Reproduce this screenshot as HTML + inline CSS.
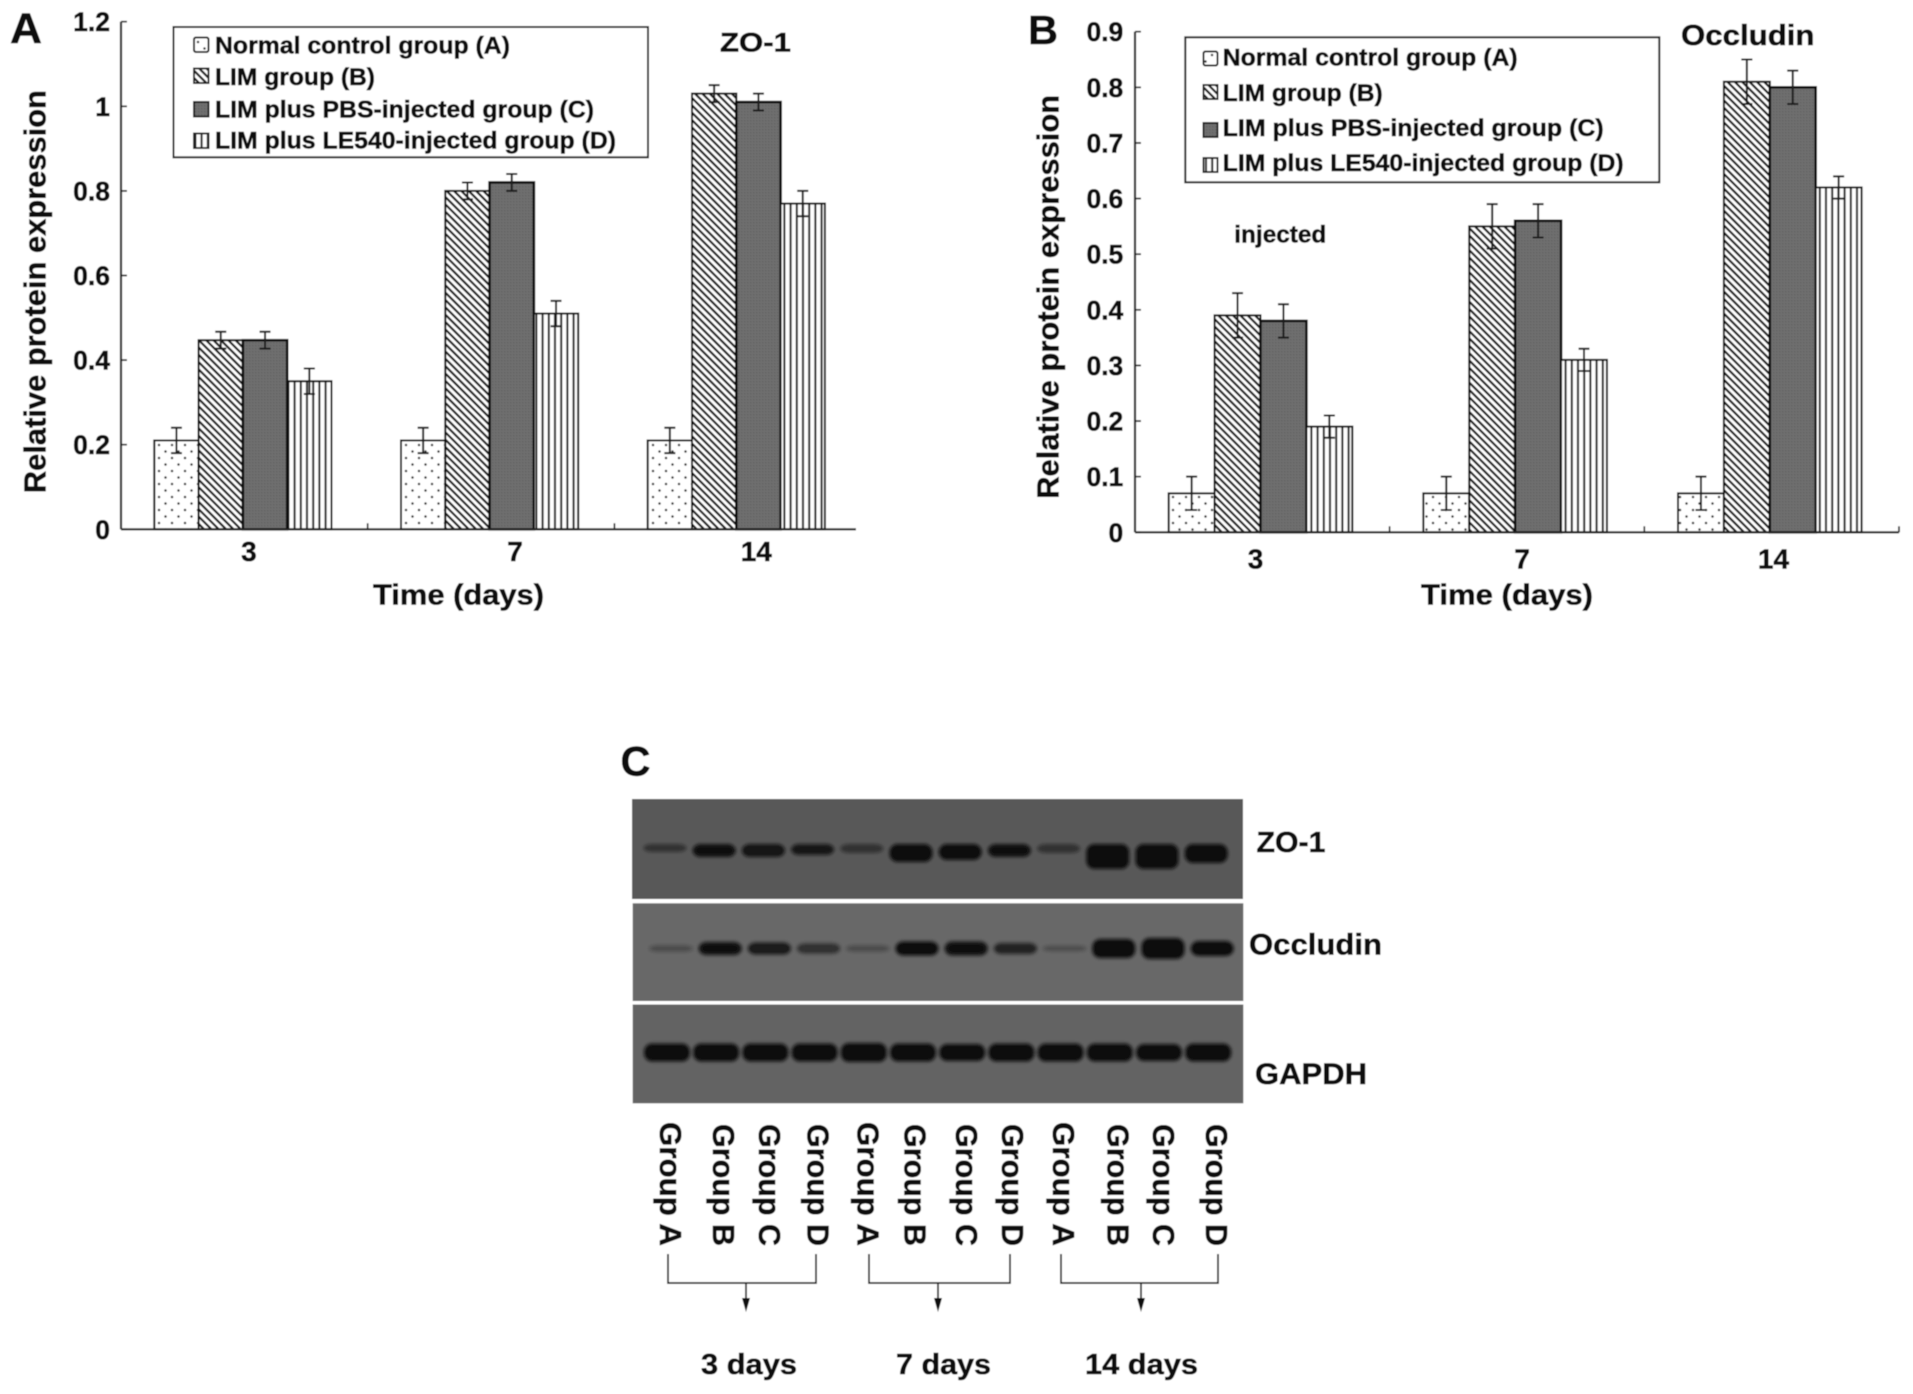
<!DOCTYPE html>
<html>
<head>
<meta charset="utf-8">
<title>ZO-1 and Occludin expression</title>
<style>
html,body{margin:0;padding:0;background:#fff;width:1913px;height:1394px;overflow:hidden}
svg{display:block}
text{font-family:"Liberation Sans",sans-serif;font-weight:bold;fill:#0d0d0d;stroke:#0d0d0d;stroke-width:.55px}
</style>
</head>
<body>
<svg id="fig" xmlns="http://www.w3.org/2000/svg" width="1913" height="1394" viewBox="0 0 1913 1394">
<defs>
<pattern id="p-dots" width="13" height="13" patternUnits="userSpaceOnUse">
<rect width="13" height="13" fill="#fff"/>
<circle cx="3" cy="3" r="1.25" fill="#333"/>
<circle cx="9.5" cy="9.5" r="1.25" fill="#333"/>
</pattern>
<pattern id="p-diag" width="5.2" height="5.2" patternUnits="userSpaceOnUse" patternTransform="rotate(45)">
<rect width="5.2" height="5.2" fill="#fff"/>
<rect width="5.2" height="2.3" fill="#1a1a1a"/>
</pattern>
<pattern id="p-dark" width="3" height="3" patternUnits="userSpaceOnUse">
<rect width="3" height="3" fill="#707070"/>
<rect width="1.5" height="1.5" fill="#646464"/>
</pattern>
<pattern id="p-vert" width="6.2" height="8" patternUnits="userSpaceOnUse">
<rect width="6.2" height="8" fill="#fff"/>
<rect x="2.2" width="2" height="8" fill="#1a1a1a"/>
</pattern>
<filter id="band-blur" x="-30%" y="-80%" width="160%" height="260%"><feGaussianBlur stdDeviation="1.7"/></filter>
<filter id="soft" x="0" y="0" width="100%" height="100%"><feGaussianBlur stdDeviation="0.45"/></filter>
</defs>

<g id="root" filter="url(#soft)">
<rect width="1913" height="1394" fill="#fff"/>

<!-- Panel A static -->
<text x="10" y="43" font-size="43" textLength="32" lengthAdjust="spacingAndGlyphs">A</text>
<text x="720" y="51.5" font-size="27" textLength="71" lengthAdjust="spacingAndGlyphs">ZO-1</text>
<text transform="translate(45.5,291.6) rotate(-90)" text-anchor="middle" font-size="31" textLength="403" lengthAdjust="spacingAndGlyphs">Relative protein expression</text>
<text x="373" y="604.5" font-size="29" textLength="171" lengthAdjust="spacingAndGlyphs">Time (days)</text>
<g>
<rect x="173.5" y="27" width="474.5" height="130.3" fill="#fff" stroke="#222" stroke-width="2"/>
<rect x="194" y="37.5" width="14.5" height="14.5" rx="2" fill="url(#p-dots)" stroke="#222" stroke-width="2"/>
<text x="215" y="53.3" font-size="24" textLength="295" lengthAdjust="spacingAndGlyphs">Normal control group (A)</text>
<rect x="194" y="68.5" width="14.5" height="14.5" fill="url(#p-diag)" stroke="#222" stroke-width="2"/>
<text x="215" y="85" font-size="24" textLength="160" lengthAdjust="spacingAndGlyphs">LIM group (B)</text>
<rect x="194" y="102" width="14.5" height="14.5" fill="url(#p-dark)" stroke="#222" stroke-width="2"/>
<text x="215" y="117.3" font-size="24" textLength="379" lengthAdjust="spacingAndGlyphs">LIM plus PBS-injected group (C)</text>
<rect x="194" y="133.5" width="14.5" height="14.5" fill="url(#p-vert)" stroke="#222" stroke-width="2"/>
<text x="215" y="148.3" font-size="24" textLength="401" lengthAdjust="spacingAndGlyphs">LIM plus LE540-injected group (D)</text>
</g>
<g id="chart-a"></g>

<!-- Panel B static -->
<text x="1028" y="44" font-size="41" textLength="30" lengthAdjust="spacingAndGlyphs">B</text>
<text x="1681" y="45" font-size="29" textLength="133.5" lengthAdjust="spacingAndGlyphs">Occludin</text>
<text x="1234.3" y="242.7" font-size="24" textLength="92" lengthAdjust="spacingAndGlyphs">injected</text>
<text transform="translate(1058.5,296.8) rotate(-90)" text-anchor="middle" font-size="31" textLength="404" lengthAdjust="spacingAndGlyphs">Relative protein expression</text>
<text x="1421" y="604.5" font-size="29" textLength="172" lengthAdjust="spacingAndGlyphs">Time (days)</text>
<g>
<rect x="1185.3" y="37.3" width="474" height="145" fill="#fff" stroke="#222" stroke-width="2"/>
<rect x="1203.5" y="51.5" width="14" height="14" rx="2" fill="url(#p-dots)" stroke="#222" stroke-width="2"/>
<text x="1222.7" y="65.7" font-size="24" textLength="295" lengthAdjust="spacingAndGlyphs">Normal control group (A)</text>
<rect x="1203.5" y="85" width="14" height="14" fill="url(#p-diag)" stroke="#222" stroke-width="2"/>
<text x="1222.7" y="101" font-size="24" textLength="160" lengthAdjust="spacingAndGlyphs">LIM group (B)</text>
<rect x="1203.5" y="123" width="14" height="14" fill="url(#p-dark)" stroke="#222" stroke-width="2"/>
<text x="1222.7" y="136" font-size="24" textLength="381" lengthAdjust="spacingAndGlyphs">LIM plus PBS-injected group (C)</text>
<rect x="1203.5" y="158" width="14" height="14" fill="url(#p-vert)" stroke="#222" stroke-width="2"/>
<text x="1222.7" y="171" font-size="24" textLength="401" lengthAdjust="spacingAndGlyphs">LIM plus LE540-injected group (D)</text>
</g>
<g id="chart-b"></g>

<!-- Panel C static -->
<text x="620.5" y="775.5" font-size="42" textLength="30" lengthAdjust="spacingAndGlyphs">C</text>
<g id="blot">
<rect x="632" y="799" width="611" height="100" fill="#595959"/>
<rect x="632.7" y="903.3" width="610.6" height="97.7" fill="#676767"/>
<rect x="632.7" y="1004.5" width="610.6" height="98.8" fill="#636363"/>
</g>
<text x="1256.5" y="852" font-size="29" textLength="69" lengthAdjust="spacingAndGlyphs">ZO-1</text>
<text x="1249" y="954.5" font-size="30" textLength="133" lengthAdjust="spacingAndGlyphs">Occludin</text>
<text x="1255" y="1084" font-size="30" textLength="112" lengthAdjust="spacingAndGlyphs">GAPDH</text>

<g>
<text transform="translate(660,1122) rotate(90)" font-size="31" textLength="124" lengthAdjust="spacingAndGlyphs">Group A</text>
<text transform="translate(713,1124) rotate(90)" font-size="31" textLength="122" lengthAdjust="spacingAndGlyphs">Group B</text>
<text transform="translate(759,1124) rotate(90)" font-size="31" textLength="122" lengthAdjust="spacingAndGlyphs">Group C</text>
<text transform="translate(807.7,1124) rotate(90)" font-size="31" textLength="122" lengthAdjust="spacingAndGlyphs">Group D</text>
<text transform="translate(857.4,1122) rotate(90)" font-size="31" textLength="124" lengthAdjust="spacingAndGlyphs">Group A</text>
<text transform="translate(904.6,1124) rotate(90)" font-size="31" textLength="122" lengthAdjust="spacingAndGlyphs">Group B</text>
<text transform="translate(956,1124) rotate(90)" font-size="31" textLength="122" lengthAdjust="spacingAndGlyphs">Group C</text>
<text transform="translate(1002,1124) rotate(90)" font-size="31" textLength="122" lengthAdjust="spacingAndGlyphs">Group D</text>
<text transform="translate(1053,1122) rotate(90)" font-size="31" textLength="124" lengthAdjust="spacingAndGlyphs">Group A</text>
<text transform="translate(1107.7,1124) rotate(90)" font-size="31" textLength="122" lengthAdjust="spacingAndGlyphs">Group B</text>
<text transform="translate(1153,1124) rotate(90)" font-size="31" textLength="122" lengthAdjust="spacingAndGlyphs">Group C</text>
<text transform="translate(1206,1124) rotate(90)" font-size="31" textLength="122" lengthAdjust="spacingAndGlyphs">Group D</text>
</g>

<g fill="none" stroke="#222" stroke-width="1.7">
<path d="M668 1254V1283H816V1254M746 1283V1300"/>
<path d="M869 1254V1283H1010V1254M938 1283V1300"/>
<path d="M1061 1254V1283H1218V1254M1141 1283V1300"/>
</g>
<g fill="#111">
<path d="M742 1298h8l-4 14z"/>
<path d="M934 1298h8l-4 14z"/>
<path d="M1137 1298h8l-4 14z"/>
</g>
<text x="701" y="1374" font-size="29" textLength="96" lengthAdjust="spacingAndGlyphs">3 days</text>
<text x="896" y="1374" font-size="29" textLength="95" lengthAdjust="spacingAndGlyphs">7 days</text>
<text x="1085" y="1374" font-size="29" textLength="113" lengthAdjust="spacingAndGlyphs">14 days</text>
</g>
</svg>

<script>
// ---- Chart data ----
const days = ['3', '7', '14'];
const seriesKeys = ['a', 'b', 'c', 'd'];
const zo1TickLabels = ['0', '0.2', '0.4', '0.6', '0.8', '1', '1.2'];
const zo1GroupA = [0.21, 0.21, 0.21];
const zo1GroupB = [0.447, 0.80, 1.03];
const zo1GroupC = [0.447, 0.82, 1.01];
const zo1GroupD = [0.35, 0.51, 0.77];
const zo1ErrA = [0.03, 0.03, 0.03];
const zo1ErrB = [0.02, 0.02, 0.02];
const zo1ErrC = [0.02, 0.02, 0.02];
const zo1ErrD = [0.03, 0.03, 0.03];
const occTickLabels = ['0', '0.1', '0.2', '0.3', '0.4', '0.5', '0.6', '0.7', '0.8', '0.9'];
const occGroupA = [0.07, 0.07, 0.07];
const occGroupB = [0.39, 0.55, 0.81];
const occGroupC = [0.38, 0.56, 0.80];
const occGroupD = [0.19, 0.31, 0.62];
const occErrA = [0.03, 0.03, 0.03];
const occErrB = [0.04, 0.04, 0.04];
const occErrC = [0.03, 0.03, 0.03];
const occErrD = [0.02, 0.02, 0.02];
// Band thickness and density read from the blot, one value per lane
const blotZo1Thickness = [8, 13, 13, 11, 9, 18, 16, 13, 9, 25, 25, 19];
const blotZo1Density = [0.5, 0.95, 0.9, 0.85, 0.5, 1, 1, 0.95, 0.5, 1, 1, 1];
const blotOccThickness = [6, 13, 12, 10, 6, 14, 14, 11, 5, 19, 21, 15];
const blotOccDensity = [0.3, 0.95, 0.85, 0.6, 0.3, 1, 0.95, 0.75, 0.3, 1, 1, 1];
const blotGapdhThickness = [18, 18, 18, 18, 19, 18, 17, 18, 18, 18, 17, 18];
const blotGapdhDensity = [1, 1, 1, 1, 1, 1, 1, 1, 1, 1, 1, 1];

const SVGNS = 'http://www.w3.org/2000/svg';
const patternFills = ['url(#p-dots)', 'url(#p-diag)', 'url(#p-dark)', 'url(#p-vert)'];

function make(parent, tag, attrs, text) {
  const el = document.createElementNS(SVGNS, tag);
  for (const k in attrs) el.setAttribute(k, attrs[k]);
  if (text !== undefined) el.textContent = text;
  parent.appendChild(el);
  return el;
}

function drawChart(opts) {
  const g = document.getElementById(opts.id);
  const yScale = function (v) { return opts.y0 - (v / opts.yMax) * (opts.y0 - opts.yTop); };
  const catX = function (i) { return opts.x0 + opts.catW * i; };
  const barX = function (i, s) { return catX(i) + opts.pad + opts.barW * s; };

  // bars
  opts.series.forEach(function (vals, s) {
    vals.forEach(function (v, i) {
      const bar = make(g, 'rect', {
        x: barX(i, s), y: yScale(v), width: opts.barW, height: opts.y0 - yScale(v),
        fill: patternFills[s], stroke: '#111', 'stroke-width': s === 2 ? 2.6 : 2
      });
      
      
    });
  });

  // error bars
  opts.errors.forEach(function (errs, s) {
    errs.forEach(function (e, i) {
      const v = opts.series[s][i];
      const cx = barX(i, s) + opts.barW / 2;
      const eg = make(g, 'path', {
        d: 'M' + (cx - 5.5) + ' ' + yScale(v + e) + 'H' + (cx + 5.5) +
           'M' + cx + ' ' + yScale(v + e) + 'V' + yScale(v - e) +
           'M' + (cx - 5.5) + ' ' + yScale(v - e) + 'H' + (cx + 5.5),
        fill: 'none', stroke: '#1a1a1a', 'stroke-width': 2
      });
      
      
    });
  });

  // axes
  const xAxis = make(g, 'line', { x1: opts.x0, x2: opts.xEnd, y1: opts.y0, y2: opts.y0, stroke: '#222', 'stroke-width': 2.2 });
  
  
  const yAxis = make(g, 'line', { x1: opts.x0, x2: opts.x0, y1: yScale(opts.yMax), y2: opts.y0, stroke: '#222', 'stroke-width': 2.2 });
  
  

  // y ticks + labels
  opts.ticks.forEach(function (label) {
    const v = parseFloat(label);
    const tick = make(g, 'line', { x1: opts.x0, x2: opts.x0 + 6, y1: yScale(v), y2: yScale(v), stroke: '#222', 'stroke-width': 1.7 });
    
    
    const lab = make(g, 'text', { x: opts.labelX, y: yScale(v) + 9.5, 'text-anchor': 'end', 'font-size': 26.5 }, label);
    
    
  });

  // x ticks + labels
  days.forEach(function (d, i) {
    const tickNeeded = i > 0;
    if (tickNeeded) {
      const tick = make(g, 'line', { x1: catX(i), x2: catX(i), y1: opts.y0 - 6, y2: opts.y0, stroke: '#222', 'stroke-width': 1.7 });
      
      
    }
    const lab = make(g, 'text', {
      x: barX(i, 2) + opts.xLabelOffset[i], y: opts.xLabelY, 'text-anchor': 'middle', 'font-size': 28
    }, d);
    
    
  });
  if (opts.endTick) {
    const tick = make(g, 'line', { x1: opts.xEnd, x2: opts.xEnd, y1: opts.y0 - 6, y2: opts.y0, stroke: '#222', 'stroke-width': 1.7 });
    
    
  }
}

drawChart({
  id: 'chart-a', prefix: 'zo1', x0: 121, xEnd: 856, catW: 246.7, pad: 33.3, barW: 44.3,
  y0: 529.3, yTop: 21.7, yMax: 1.2, labelX: 110, xLabelY: 561, xLabelOffset: [6, 25.5, 20],
  ticks: zo1TickLabels, endTick: false,
  series: [zo1GroupA, zo1GroupB, zo1GroupC, zo1GroupD],
  errors: [zo1ErrA, zo1ErrB, zo1ErrC, zo1ErrD]
});
drawChart({
  id: 'chart-b', prefix: 'occludin', x0: 1135, xEnd: 1899, catW: 254.65, pad: 33.7, barW: 45.9,
  y0: 532.3, yTop: 31.7, yMax: 0.9, labelX: 1123.3, xLabelY: 568.5, xLabelOffset: [-5, 7, 3.7],
  ticks: occTickLabels, endTick: true,
  series: [occGroupA, occGroupB, occGroupC, occGroupD],
  errors: [occErrA, occErrB, occErrC, occErrD]
});

// ---- Western blot bands ----
function drawBands(name, thickness, density, laneStart, rowAnchor, anchorFraction, halfWidth) {
  const blot = document.getElementById('blot');
  const laneX = function (i) { return laneStart + 49.2 * i; };
  thickness.forEach(function (t, i) {
    const band = make(blot, 'rect', {
      x: laneX(i) - halfWidth, y: rowAnchor - t * anchorFraction,
      width: halfWidth * 2, height: t,
      rx: 8, ry: Math.min(t / 2, 8),
      fill: '#111',
      opacity: density[i],
      filter: 'url(#band-blur)'
    });
    
    
  });
}
drawBands('zo1', blotZo1Thickness, blotZo1Density, 665, 844, 0, 21.5);
drawBands('occludin', blotOccThickness, blotOccDensity, 671, 948.5, 0.5, 21.5);
drawBands('gapdh', blotGapdhThickness, blotGapdhDensity, 667, 1052.5, 0.5, 23);
</script>
</body>
</html>
